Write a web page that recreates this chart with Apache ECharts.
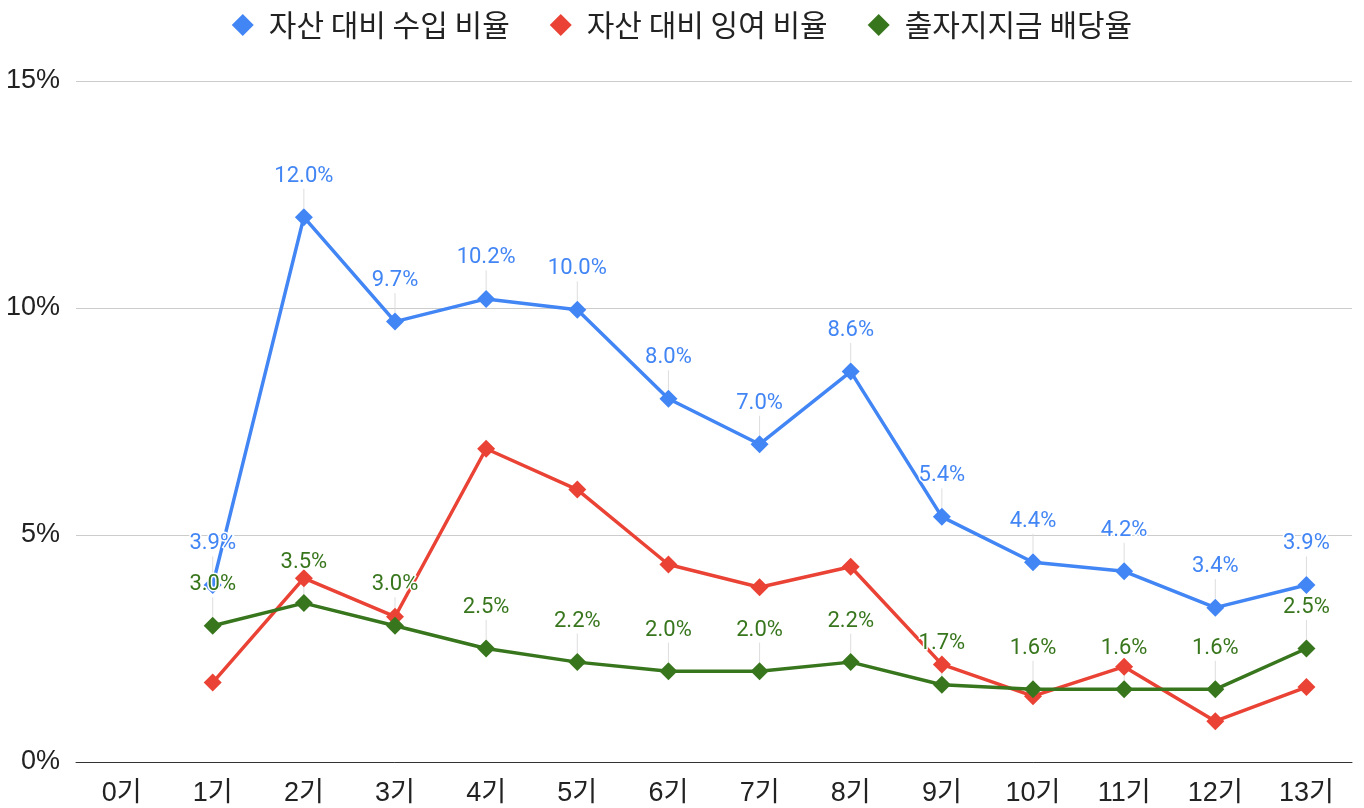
<!DOCTYPE html>
<html>
<head>
<meta charset="utf-8">
<script src="https://cdn.jsdelivr.net/npm/echarts@6/dist/echarts.min.js"></script>
<style>
html, body { margin: 0; padding: 0; background: #fff; }
#chart { width: 1364px; height: 808px; }
</style>
</head>
<body>
<div id="chart"></div>
<script>
var categories = ['0기','1기','2기','3기','4기','5기','6기','7기','8기','9기','10기','11기','12기','13기'];
var seriesNames = ['자산 대비 수입 비율','자산 대비 잉여 비율','출자지지금 배당율'];
var incomeRatio = [null, 3.9, 12.0, 9.7, 10.2, 9.96, 8.0, 7.0, 8.6, 5.4, 4.4, 4.2, 3.4, 3.9];
var surplusRatio = [null, 1.75, 4.05, 3.2, 6.9, 6.0, 4.35, 3.85, 4.3, 2.15, 1.45, 2.1, 0.9, 1.65];
var dividendRatio = [null, 3.0, 3.5, 3.0, 2.5, 2.2, 2.0, 2.0, 2.2, 1.7, 1.6, 1.6, 1.6, 2.5];
var yTicks = [0, 5, 10, 15];

var labelFont = 'Roboto, "Noto Sans CJK KR", sans-serif';
var axisFont = '"Liberation Sans", Arial, "Noto Sans CJK KR", sans-serif';

lineChart("chart");

// 선 그래프
function lineChart(id) {
	var chart = echarts.init(document.getElementById(id));

	var colors = ['#4285F4', '#EA4335', '#38761D'];
	var datas = [incomeRatio, surplusRatio, dividendRatio];
	var series = datas.map(function (d, i) {
		var s = {
			name: seriesNames[i],
			type: 'line',
			data: d,
			symbol: 'diamond',
			symbolSize: 18,
			showAllSymbol: true,
			itemStyle: { color: colors[i] },
			lineStyle: { width: 3.5, color: colors[i] }
		};
		if (i !== 1) {
			s.label = {
				show: true,
				position: 'top',
				distance: 6,
				color: colors[i],
				fontSize: 22,
				fontFamily: labelFont,
				textBorderColor: '#fff',
				textBorderWidth: 3,
				formatter: function (p) { return p.value == null ? '' : p.value.toFixed(1) + '%'; }
			};
			s.labelLayout = { dy: -15, hideOverlap: false };
			s.labelLine = { show: true, lineStyle: { color: '#dddddd', width: 1 } };
		}
		return s;
	});

	var option = {
		animation: false,
		legend: {
			top: 5,
			left: 'center',
			icon: 'diamond',
			itemWidth: 22,
			itemHeight: 22,
			itemGap: 40,
			textStyle: { fontSize: 30, color: '#222', fontFamily: '"Noto Sans CJK KR", sans-serif', padding: [0, 0, 0, 10] },
			data: seriesNames
		},
		grid: { left: 76, right: 12, top: 81, bottom: 46, containLabel: false },
		xAxis: {
			type: 'category',
			data: categories,
			boundaryGap: true,
			axisLine: { lineStyle: { color: '#333', width: 1 } },
			axisTick: { show: false },
			axisLabel: { fontSize: 27, color: '#222', margin: 18, fontFamily: axisFont }
		},
		yAxis: {
			type: 'value',
			min: yTicks[0],
			max: yTicks[yTicks.length - 1],
			interval: 5,
			axisLine: { show: false },
			axisTick: { show: false },
			splitLine: { lineStyle: { color: '#cccccc', width: 1 } },
			axisLabel: { fontSize: 27, color: '#222', margin: 16, formatter: '{value}%', fontFamily: axisFont }
		},
		series: series
	};
	chart.setOption(option);
}
</script>
</body>
</html>
